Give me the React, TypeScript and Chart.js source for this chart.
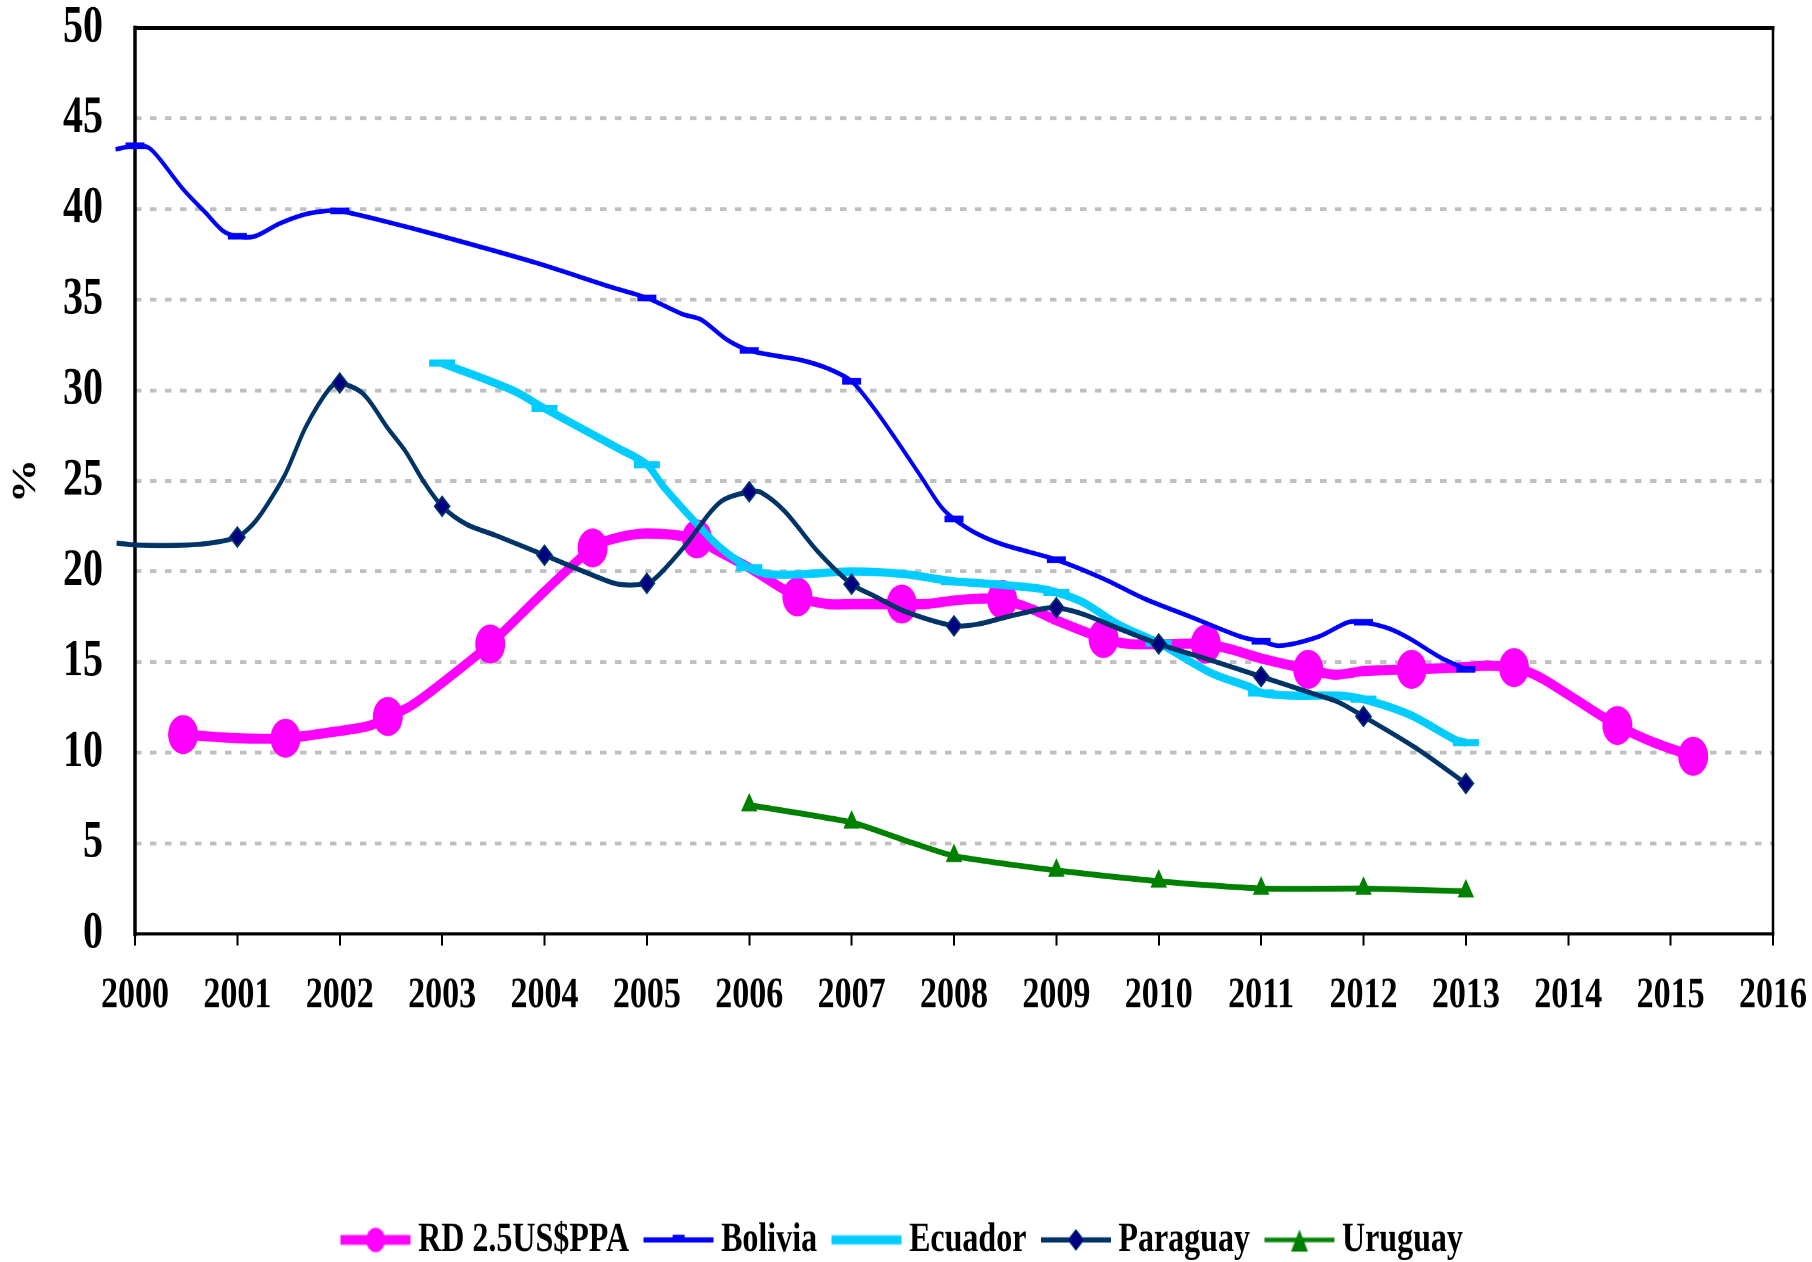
import React, { useEffect, useRef } from 'react';
import { Chart, registerables } from 'chart.js';

Chart.register(...registerables);

const W = 1812;
const H = 971;
const STRETCH = 1262 / H;
const FONT = "'Liberation Serif', 'Times New Roman', serif";

const xTicks = [2000, 2001, 2002, 2003, 2004, 2005, 2006, 2007, 2008, 2009, 2010, 2011, 2012, 2013, 2014, 2015, 2016];
const yTicks = [0, 5, 10, 15, 20, 25, 30, 35, 40, 45, 50];
const seriesNames = ['RD 2.5US$PPA', 'Bolivia', 'Ecuador', 'Paraguay', 'Uruguay'];

const rdYears = [2000.47, 2001.0, 2001.47, 2002.0, 2002.3, 2002.47, 2002.67, 2002.92, 2003.47, 2004.0, 2004.47, 2004.67, 2005.0, 2005.49, 2005.67, 2006.0, 2006.47, 2006.77, 2007.0, 2007.49, 2007.72, 2008.0, 2008.24, 2008.47, 2008.77, 2009.0, 2009.46, 2009.71, 2010.11, 2010.46, 2010.71, 2011.0, 2011.46, 2011.72, 2012.0, 2012.47, 2012.96, 2013.19, 2013.47, 2013.71, 2014.0, 2014.48, 2014.82, 2015.22];
const rdValues = [11.0, 10.8, 10.8, 11.2, 11.5, 12.0, 12.5, 13.5, 16.0, 18.9, 21.3, 21.8, 22.1, 21.8, 21.2, 20.2, 18.6, 18.2, 18.2, 18.2, 18.2, 18.4, 18.5, 18.45, 17.9, 17.3, 16.3, 16.0, 16.0, 16.0, 15.7, 15.2, 14.6, 14.3, 14.5, 14.6, 14.7, 14.8, 14.7, 14.2, 13.2, 11.5, 10.6, 9.8];
const rdMarkers = [2000.47, 2001.47, 2002.47, 2003.47, 2004.47, 2005.49, 2006.47, 2007.49, 2008.47, 2009.46, 2010.46, 2011.46, 2012.47, 2013.47, 2014.48, 2015.22];

const bolYears = [1999.81, 2000.0, 2000.13, 2000.23, 2000.47, 2000.69, 2000.86, 2001.0, 2001.17, 2001.41, 2001.65, 2001.86, 2002.0, 2002.39, 2003.0, 2003.91, 2004.65, 2005.0, 2005.35, 2005.53, 2005.78, 2006.0, 2006.27, 2006.52, 2006.77, 2007.0, 2007.22, 2007.42, 2007.67, 2007.87, 2008.0, 2008.22, 2008.47, 2008.72, 2009.0, 2009.46, 2009.86, 2010.31, 2010.8, 2011.0, 2011.18, 2011.56, 2011.85, 2012.0, 2012.25, 2012.45, 2012.75, 2013.0];
const bolValues = [43.3, 43.5, 43.4, 42.85, 41.1, 39.8, 38.8, 38.5, 38.5, 39.2, 39.7, 39.9, 39.9, 39.4, 38.5, 37.05, 35.7, 35.1, 34.2, 33.9, 32.8, 32.2, 31.9, 31.65, 31.2, 30.5, 29.0, 27.4, 25.3, 23.6, 22.9, 22.1, 21.5, 21.1, 20.65, 19.6, 18.5, 17.5, 16.4, 16.15, 15.9, 16.4, 17.2, 17.2, 16.85, 16.3, 15.26, 14.6];
const bolMarkers = [2000, 2001, 2002, 2005, 2006, 2007, 2008, 2009, 2011, 2012, 2013];

const ecuYears = [2003.0, 2003.69, 2004.0, 2004.72, 2005.0, 2005.16, 2005.46, 2005.71, 2006.0, 2006.2, 2006.52, 2007.0, 2007.52, 2008.0, 2008.27, 2008.77, 2009.0, 2009.26, 2009.61, 2010.0, 2010.51, 2010.9, 2011.0, 2011.3, 2011.75, 2012.0, 2012.45, 2012.9, 2013.0];
const ecuValues = [31.5, 30.0, 29.0, 26.8, 25.9, 24.7, 22.8, 21.35, 20.2, 19.85, 19.85, 20.0, 19.85, 19.45, 19.35, 19.1, 18.85, 18.3, 17.06, 16.05, 14.4, 13.6, 13.3, 13.15, 13.15, 12.95, 12.1, 10.7, 10.55];
const ecuMarkers = [2003, 2004, 2005, 2006, 2007, 2008, 2009, 2010, 2011, 2012, 2013];

const parYears = [1999.82, 2000.0, 2000.52, 2000.77, 2001.0, 2001.15, 2001.27, 2001.47, 2001.67, 2001.9, 2002.0, 2002.23, 2002.47, 2002.64, 2002.82, 2003.0, 2003.24, 2003.52, 2004.0, 2004.47, 2004.72, 2005.0, 2005.11, 2005.37, 2005.71, 2006.0, 2006.12, 2006.35, 2006.67, 2007.0, 2007.22, 2007.52, 2008.0, 2008.24, 2008.52, 2008.87, 2009.0, 2009.26, 2009.61, 2010.0, 2010.51, 2011.0, 2011.51, 2011.75, 2012.0, 2012.5, 2013.0];
const parValues = [21.57, 21.46, 21.46, 21.6, 21.9, 22.6, 23.5, 25.4, 28.0, 30.1, 30.4, 29.8, 27.9, 26.65, 24.96, 23.6, 22.6, 22.0, 20.9, 19.8, 19.3, 19.35, 19.77, 21.4, 23.8, 24.4, 24.35, 23.3, 21.1, 19.3, 18.65, 17.8, 17.0, 17.1, 17.5, 17.95, 18.0, 17.65, 16.85, 16.0, 15.1, 14.2, 13.25, 12.8, 12.0, 10.3, 8.3];
const parMarkers = [2001, 2002, 2003, 2004, 2005, 2006, 2007, 2008, 2009, 2010, 2011, 2012, 2013];

const uruYears = [2006, 2007, 2007.5, 2008, 2009, 2010, 2011, 2012, 2013];
const uruValues = [7.1, 6.15, 5.2, 4.3, 3.5, 2.9, 2.5, 2.5, 2.35];
const uruMarkers = [2006, 2007, 2008, 2009, 2010, 2011, 2012, 2013];

const COLORS = {
  rd: '#FF00FF',
  bol: '#0000FF',
  ecu: '#00CCFF',
  par: '#003366',
  parFill: '#000080',
  uru: '#008000',
};

function pts(years: number[], values: number[]) {
  return years.map((x, i) => ({ x, y: values[i] }));
}
function radii(years: number[], marks: number[], r: number) {
  return years.map((y) => (marks.includes(y) ? r : 0));
}

function makeIcon(color: string, lw: number, marker?: (ctx: CanvasRenderingContext2D) => void) {
  const c = document.createElement('canvas');
  c.width = 70;
  c.height = 30;
  const ctx = c.getContext('2d') as CanvasRenderingContext2D;
  ctx.strokeStyle = color;
  ctx.lineWidth = lw;
  ctx.beginPath();
  ctx.moveTo(0, 15);
  ctx.lineTo(70, 15);
  ctx.stroke();
  if (marker) marker(ctx);
  return c;
}

function buildIcons() {
  return [
    makeIcon(COLORS.rd, 7.5, (ctx) => {
      ctx.fillStyle = COLORS.rd;
      ctx.beginPath();
      ctx.arc(35, 15, 9.5, 0, Math.PI * 2);
      ctx.fill();
    }),
    makeIcon(COLORS.bol, 4, (ctx) => {
      ctx.fillStyle = COLORS.bol;
      ctx.fillRect(29, 11, 12, 3);
    }),
    makeIcon(COLORS.ecu, 7),
    makeIcon(COLORS.par, 4, (ctx) => {
      ctx.fillStyle = COLORS.parFill;
      ctx.strokeStyle = COLORS.par;
      ctx.lineWidth = 1;
      ctx.beginPath();
      ctx.moveTo(35, 7);
      ctx.lineTo(43, 15);
      ctx.lineTo(35, 23);
      ctx.lineTo(27, 15);
      ctx.closePath();
      ctx.fill();
      ctx.stroke();
    }),
    makeIcon(COLORS.uru, 3.5, (ctx) => {
      ctx.fillStyle = COLORS.uru;
      ctx.beginPath();
      ctx.moveTo(35, 7);
      ctx.lineTo(43.5, 24);
      ctx.lineTo(26.5, 24);
      ctx.closePath();
      ctx.fill();
    }),
  ];
}

const framePlugin = {
  id: 'frame',
  beforeDatasetsDraw(chart: any) {
    const { ctx, chartArea: a } = chart;
    ctx.save();
    ctx.strokeStyle = '#000';
    ctx.lineCap = 'square';
    const seg = (x1: number, y1: number, x2: number, y2: number, w: number) => {
      ctx.lineWidth = w;
      ctx.beginPath();
      ctx.moveTo(x1, y1);
      ctx.lineTo(x2, y2);
      ctx.stroke();
    };
    seg(a.left, a.top, a.right, a.top, 3);
    seg(a.right, a.top, a.right, a.bottom, 2.5);
    seg(a.left, a.bottom, a.right, a.bottom, 2.6);
    seg(a.left, a.top, a.left, a.bottom, 3.5);
    ctx.restore();
  },
};

export default function App() {
  const ref = useRef<HTMLCanvasElement>(null);

  useEffect(() => {
    if (!ref.current) return;
    const icons = buildIcons();
    const chart = new Chart(ref.current, {
      type: 'line',
      data: {
        datasets: [
          {
            label: seriesNames[0],
            data: pts(rdYears, rdValues),
            borderColor: COLORS.rd,
            backgroundColor: COLORS.rd,
            borderWidth: 7.8,
            pointStyle: 'circle',
            pointRadius: radii(rdYears, rdMarkers, 15),
            pointBackgroundColor: COLORS.rd,
            pointBorderColor: COLORS.rd,
            pointBorderWidth: 0,
            tension: 0.3,
            clip: false,
            order: 5,
          },
          {
            label: seriesNames[1],
            data: pts(bolYears, bolValues),
            borderColor: COLORS.bol,
            backgroundColor: COLORS.bol,
            borderWidth: 3.6,
            pointStyle: 'line',
            pointRadius: radii(bolYears, bolMarkers, 9.5),
            pointBorderColor: COLORS.bol,
            pointBorderWidth: 5,
            tension: 0.3,
            clip: false,
            order: 4,
          },
          {
            label: seriesNames[2],
            data: pts(ecuYears, ecuValues),
            borderColor: COLORS.ecu,
            backgroundColor: COLORS.ecu,
            borderWidth: 6.4,
            pointStyle: 'line',
            pointRadius: radii(ecuYears, ecuMarkers, 13),
            pointBorderColor: COLORS.ecu,
            pointBorderWidth: 5.5,
            tension: 0.3,
            clip: false,
            order: 3,
          },
          {
            label: seriesNames[3],
            data: pts(parYears, parValues),
            borderColor: COLORS.par,
            backgroundColor: COLORS.parFill,
            borderWidth: 3.9,
            pointStyle: 'rectRot',
            pointRadius: radii(parYears, parMarkers, 7.5),
            pointBackgroundColor: COLORS.parFill,
            pointBorderColor: COLORS.par,
            pointBorderWidth: 1.5,
            tension: 0.3,
            clip: false,
            order: 2,
          },
          {
            label: seriesNames[4],
            data: pts(uruYears, uruValues),
            borderColor: COLORS.uru,
            backgroundColor: COLORS.uru,
            borderWidth: 4.5,
            pointStyle: 'triangle',
            pointRadius: radii(uruYears, uruMarkers, 9.5),
            pointBackgroundColor: COLORS.uru,
            pointBorderColor: COLORS.uru,
            pointBorderWidth: 0,
            tension: 0.2,
            clip: false,
            order: 1,
          },
        ],
      },
      options: {
        responsive: true,
        maintainAspectRatio: false,
        animation: false,
        devicePixelRatio: 2,
        events: [],
        layout: { padding: { top: 0, right: 0, bottom: 1, left: 0 } },
        plugins: {
          tooltip: { enabled: false },
          legend: {
            display: true,
            position: 'bottom',
            maxHeight: 55,
            labels: {
              usePointStyle: true,
              pointStyleWidth: 53,
              padding: 23,
              color: '#000',
              font: { family: FONT, size: 32, weight: 'bold' },
              generateLabels: () =>
                seriesNames.map((text, i) => ({
                  text,
                  pointStyle: icons[i],
                  fillStyle: 'rgba(0,0,0,0)',
                  strokeStyle: 'rgba(0,0,0,0)',
                  lineWidth: 0,
                  hidden: false,
                  datasetIndex: i,
                })),
            },
          },
        },
        scales: {
          x: {
            type: 'linear',
            min: 2000,
            max: 2016,
            afterBuildTicks: (s: any) => {
              s.ticks = xTicks.map((v) => ({ value: v }));
            },
            afterFit: (s: any) => {
              s.height = 196.5;
              s.paddingLeft = 0;
              s.paddingRight = 39;
            },
            grid: { drawOnChartArea: false, drawTicks: true, tickLength: 9, color: '#000', lineWidth: 2 },
            border: { display: false },
            ticks: {
              autoSkip: false,
              maxRotation: 0,
              minRotation: 0,
              padding: 18.5,
              color: '#000',
              font: { family: FONT, size: 34, weight: 'bold', lineHeight: 1.2 },
              callback: (v: any) => String(v),
            },
          },
          y: {
            type: 'linear',
            min: 0,
            max: 50,
            afterBuildTicks: (s: any) => {
              s.ticks = yTicks.map((v) => ({ value: v }));
            },
            afterFit: (s: any) => {
              s.width = 135;
              s.paddingTop = 21.5;
              s.paddingBottom = 0;
            },
            grid: {
              drawTicks: false,
              lineWidth: 3,
              color: (c: any) =>
                c.tick && (c.tick.value === 0 || c.tick.value === 50) ? 'rgba(0,0,0,0)' : '#C0C0C0',
            },
            border: { display: false, dash: [6.5, 8.5] },
            ticks: {
              padding: 32,
              color: '#000',
              font: { family: FONT, size: 40, weight: 'bold', lineHeight: 1 },
              callback: (v: any) => String(v),
            },
            title: {
              display: true,
              text: '%',
              color: '#000',
              font: { family: FONT, size: 34, weight: 'bold', lineHeight: 1.2 },
              padding: { top: 5.6, bottom: 0 },
            },
          },
        },
      } as any,
      plugins: [framePlugin],
    });
    return () => chart.destroy();
  }, []);

  return (
    <div
      style={{
        position: 'fixed',
        left: 0,
        top: 0,
        width: W,
        height: 1262,
        overflow: 'hidden',
        background: '#fff',
      }}
    >
      <div
        style={{
          width: W,
          height: H,
          transform: `scaleY(${STRETCH})`,
          transformOrigin: '0 0',
        }}
      >
        <canvas ref={ref} />
      </div>
    </div>
  );
}
